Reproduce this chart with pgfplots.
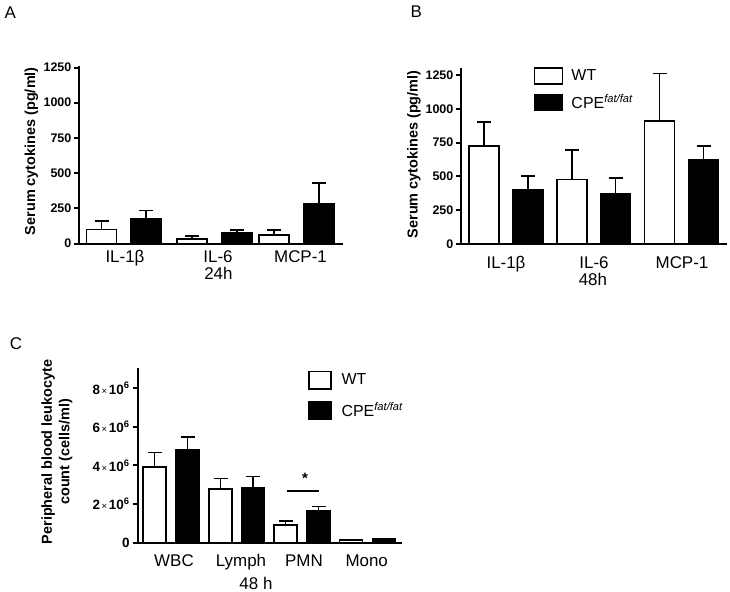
\documentclass[border=0pt]{standalone}
\usepackage{fontspec}
\setmainfont{Liberation Sans}
\usepackage{pgfplots}
\pgfplotsset{compat=1.18}
\newcommand{\fs}[1]{\fontsize{#1}{#1}\selectfont}
\newcommand{\sci}[1]{#1{\mdseries\fs{9.5}\,×\,}10\textsuperscript{6}}
\pgfplotsset{
  panel/.style={
    scale only axis,
    anchor=south west,
    axis x line*=bottom, axis y line*=left,
    axis line style={line width=2bp},
    ymin=0,
    clip=false,
    tick align=outside,
    major tick length=5bp,
    ytick style={line width=2bp, black},
    xtick style={draw=none},
    yticklabel style={font=\bfseries\fs{12.5}, inner sep=0pt, xshift=-2.5bp},
    xticklabel style={font=\fs{17}, inner sep=0pt, anchor=base},
    ylabel style={font=\bfseries\fs{14.5}, anchor=center, align=center},
    xlabel style={font=\fs{17}, inner sep=0pt, anchor=base},
    legend image code/.code={\draw[#1, line width=1.6bp] (0bp,-8bp) rectangle (28bp,8bp);},
    legend style={draw=none, fill=none, inner sep=0pt, outer sep=0pt, font=\fs{16},
      row sep=9bp, column sep=8bp, nodes={inner sep=0pt}},
    legend cell align=left,
  },
  errs/.style={
    error bars/y dir=plus, error bars/y explicit,
    error bars/error bar style={line width=1.6bp, black},
    error bars/error mark options={rotate=90, line width=1.6bp, mark size=7bp, black}},
  wt/.style={ybar, bar shift=0pt, fill=white, draw=black, line width=1.6bp, errs},
  cpe/.style={ybar, bar shift=0pt, fill=black, draw=black, line width=1.6bp, errs},
}
\begin{document}
\begin{tikzpicture}
\path[use as bounding box] (0,0) rectangle (730bp,-592bp);
\node[font=\fs{17}] at (10.3bp,-12.5bp) {A};
\node[font=\fs{17}] at (416.3bp,-11.7bp) {B};
\node[font=\fs{17}] at (16bp,-343.3bp) {C};

% Panel A
\begin{axis}[panel, at={(79bp,-243.5bp)}, width=264bp, height=177.5bp,
  xmin=79, xmax=343, ymax=1260.7,
  ytick={0,250,500,750,1000,1250}, yticklabels={0,250,500,750,1000,1250},
  xtick={125,218,300.5}, xticklabels={IL-1β,IL-6,MCP-1},
  xticklabel style={yshift=-14.2bp},
  ylabel={Serum cytokines (pg/ml)},
  ylabel style={at={(axis description cs:-0.18,0.52)}},
  xlabel={24h},
  xlabel style={at={(axis description cs:0.528,-0.203)}},
]
\addplot[wt, bar width=30] coordinates {(101.5,100) +- (0,58) (192,32) +- (0,22) (274,60) +- (0,36)};
\addplot[cpe, bar width=30] coordinates {(146,174) +- (0,59) (237,75) +- (0,21) (319,280) +- (0,150)};
\end{axis}

% Panel B
\begin{axis}[panel, at={(461bp,-244bp)}, width=266bp, height=175.7bp,
  xmin=461, xmax=727, ymax=1300.5,
  ytick={0,250,500,750,1000,1250}, yticklabels={0,250,500,750,1000,1250},
  xtick={506,594,682}, xticklabels={IL-1β,IL-6,MCP-1},
  xticklabel style={yshift=-19.3bp},
  ylabel={Serum cytokines (pg/ml)},
  ylabel style={at={(axis description cs:-0.177,0.51)}},
  xlabel={48h},
  xlabel style={at={(axis description cs:0.496,-0.236)}},
  legend style={at={(axis description cs:0.274,1.007)}, anchor=north west},
]
\addplot[wt, bar width=30] coordinates {(484,725) +- (0,178) (572,478) +- (0,217) (659.5,912) +- (0,351)};
\addplot[cpe, bar width=30] coordinates {(528,398) +- (0,107) (615.5,370) +- (0,120) (703.5,624) +- (0,102)};
\legend{WT, CPE\textsuperscript{\itshape fat/fat}}
\end{axis}

% Panel C
\begin{axis}[panel, at={(137.7bp,-542.7bp)}, width=264bp, height=174.7bp,
  xmin=137.7, xmax=401.7, ymax=9.05,
  ytick={0,2,4,6,8}, yticklabels={0,\sci{2},\sci{4},\sci{6},\sci{8}},
  yticklabel style={font=\bfseries\fs{13.5}, xshift=-0.5bp},
  xtick={174,241,304,366.7}, xticklabels={WBC,Lymph,PMN,Mono},
  xticklabel style={yshift=-18.3bp},
  ylabel={Peripheral blood leukocyte\\[3bp]count (cells/ml)},
  ylabel style={at={(axis description cs:-0.306,0.52)}},
  xlabel={48 h},
  xlabel style={at={(axis description cs:0.448,-0.267)}},
  legend image code/.code={\draw[#1, line width=1.6bp] (0bp,-8.8bp) rectangle (22bp,8.8bp);},
  legend style={at={(axis description cs:0.645,0.985)}, anchor=north west, row sep=10.7bp, column sep=10bp},
]
\addplot[wt, bar width=23] coordinates {(154.5,3.91) +- (0,0.77) (220.5,2.77) +- (0,0.55) (285.5,0.93) +- (0,0.18) (351,0.15) +- (0,0)};
\addplot[cpe, bar width=23] coordinates {(187.5,4.79) +- (0,0.68) (253,2.82) +- (0,0.6) (318.5,1.66) +- (0,0.21) (384,0.20) +- (0,0)};
\legend{WT, CPE\textsuperscript{\itshape fat/fat}}
\addplot[line width=2bp, black, forget plot] coordinates {(287.3,2.68) (319.3,2.68)};
\node[font=\bfseries\fs{15}, anchor=base, inner sep=0pt] at (axis cs:305,3.05) {*};
\end{axis}
\end{tikzpicture}
\end{document}
